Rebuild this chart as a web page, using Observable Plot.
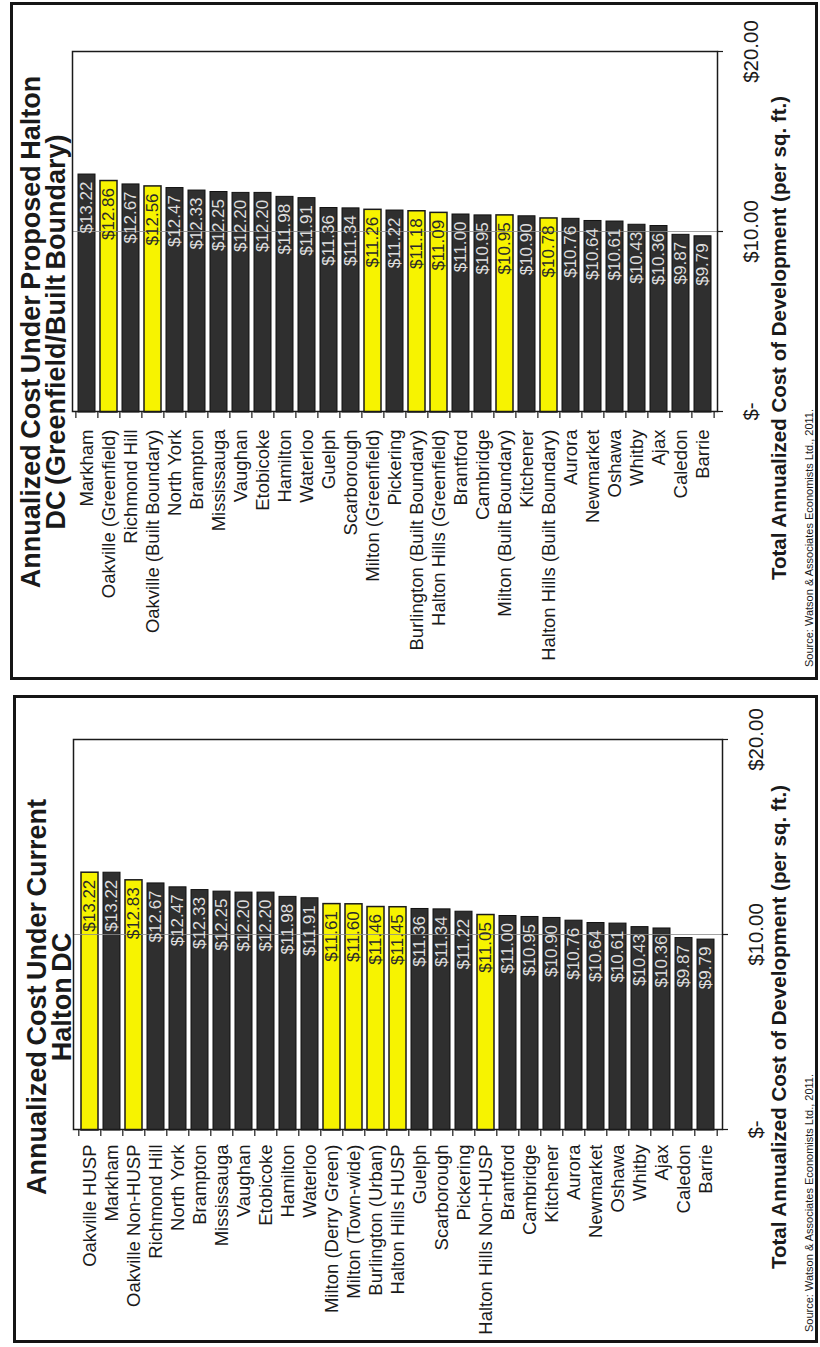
<!DOCTYPE html>
<html><head><meta charset="utf-8">
<script src="https://cdn.jsdelivr.net/npm/d3@7"></script>
<script src="https://cdn.jsdelivr.net/npm/@observablehq/plot@0.6"></script>
<style>
html,body{margin:0;padding:0;background:#fff;width:820px;height:1347px;overflow:hidden;}
#page{position:absolute;left:0;top:0;width:1347px;height:820px;transform-origin:0 0;transform:translate(0,1347px) rotate(-90deg);font-family:"Liberation Sans",Arial,sans-serif;color:#1a1a1a;background:#fff;}
.panel{position:absolute;border:3px solid #151515;box-sizing:border-box;}
.abs{position:absolute;white-space:nowrap;}
.title{font-weight:bold;font-size:27px;line-height:25px;text-align:center;word-spacing:-2px;}
.atitle{font-weight:bold;font-size:20.5px;line-height:24px;text-align:center;}
.source{font-size:11px;line-height:13px;}
.plotwrap{position:absolute;}
</style></head><body><div id="page"></div>
<script>
// ---- data ----
const currentNames = ["Oakville HUSP","Markham","Oakville Non-HUSP","Richmond Hill","North York","Brampton","Mississauga","Vaughan","Etobicoke","Hamilton","Waterloo","Milton (Derry Green)","Milton (Town-wide)","Burlington (Urban)","Halton Hills HUSP","Guelph","Scarborough","Pickering","Halton Hills Non-HUSP","Brantford","Cambridge","Kitchener","Aurora","Newmarket","Oshawa","Whitby","Ajax","Caledon","Barrie"];
const currentValues = [13.22,13.22,12.83,12.67,12.47,12.33,12.25,12.20,12.20,11.98,11.91,11.61,11.60,11.46,11.45,11.36,11.34,11.22,11.05,11.00,10.95,10.90,10.76,10.64,10.61,10.43,10.36,9.87,9.79];
const currentHighlight = ["Oakville HUSP","Oakville Non-HUSP","Milton (Derry Green)","Milton (Town-wide)","Burlington (Urban)","Halton Hills HUSP","Halton Hills Non-HUSP"];

const proposedNames = ["Markham","Oakville (Greenfield)","Richmond Hill","Oakville (Built Boundary)","North York","Brampton","Mississauga","Vaughan","Etobicoke","Hamilton","Waterloo","Guelph","Scarborough","Milton (Greenfield)","Pickering","Burlington (Built Boundary)","Halton Hills (Greenfield)","Brantford","Cambridge","Milton (Built Boundary)","Kitchener","Halton Hills (Built Boundary)","Aurora","Newmarket","Oshawa","Whitby","Ajax","Caledon","Barrie"];
const proposedValues = [13.22,12.86,12.67,12.56,12.47,12.33,12.25,12.20,12.20,11.98,11.91,11.36,11.34,11.26,11.22,11.18,11.09,11.00,10.95,10.95,10.90,10.78,10.76,10.64,10.61,10.43,10.36,9.87,9.79];
const proposedHighlight = ["Oakville (Greenfield)","Oakville (Built Boundary)","Milton (Greenfield)","Burlington (Built Boundary)","Halton Hills (Greenfield)","Milton (Built Boundary)","Halton Hills (Built Boundary)"];

const axisTicks = [0, 10, 20];
const currentTitle = ["Annualized Cost Under Current", "Halton DC"];
const proposedTitle = ["Annualized Cost Under Proposed Halton", "DC (Greenfield/Built Boundary)"];
const axisTitle = "Total Annualized Cost of Development (per sq. ft.)";
const sourceText = "Source: Watson & Associates Economists Ltd., 2011.";

// ---- drawing ----
const page = document.getElementById("page");
const FONT = "'Liberation Sans', Arial, sans-serif";
const YELLOW = "#f7f300", DARK = "#2f2f2f";

function addDiv(cls, css, html) {
  const d = document.createElement("div");
  d.className = cls;
  Object.assign(d.style, css);
  if (html != null) d.innerHTML = html;
  page.appendChild(d);
  return d;
}

function makeChart(o) {
  const data = o.names.map((name, i) => ({name, value: o.values[i], hi: o.highlight.includes(name)}));
  const plotW = o.width - o.mLeft - o.mRight;
  const plotH = o.height - o.mTop - o.mBottom;
  const step = plotH / o.names.length;
  const pxPerUnit = plotW / 20;
  const fmt = v => "$" + v.toFixed(2);
  const chart = Plot.plot({
    width: o.width, height: o.height,
    marginLeft: o.mLeft, marginRight: o.mRight, marginTop: o.mTop, marginBottom: o.mBottom,
    style: {background: "transparent", fontFamily: FONT, color: "#1a1a1a", overflow: "visible"},
    x: {domain: [0, 20]},
    y: {domain: o.names, paddingInner: 0.25, paddingOuter: 0.125},
    marks: [
      Plot.barX(data.filter(d => !d.hi), {x: "value", y: "name", fill: DARK, stroke: "#111", strokeWidth: 1}),
      Plot.barX(data.filter(d => d.hi), {x: "value", y: "name", fill: YELLOW, stroke: "#1a1a1a", strokeWidth: 1.5}),
      Plot.ruleX([10], {stroke: "#8c8c8c", strokeWidth: 1, strokeOpacity: 0.8}),
      Plot.text(data.filter(d => !d.hi), {x: "value", y: "name", text: d => fmt(d.value), textAnchor: "end", dx: -8, fontSize: o.valueSize, fill: "#dedede"}),
      Plot.text(data.filter(d => d.hi), {x: "value", y: "name", text: d => fmt(d.value), textAnchor: "end", dx: -8, fontSize: o.valueSize, fill: "#2a2a2a"}),
      Plot.ruleY(o.names, {y: d => d, x1: 0, x2: -6 / pxPerUnit, dy: -step / 2, stroke: "#1a1a1a", strokeWidth: 1.2}),
      Plot.ruleY([o.names[o.names.length - 1]], {y: d => d, x1: 0, x2: -6 / pxPerUnit, dy: step / 2, stroke: "#1a1a1a", strokeWidth: 1.2}),
      Plot.axisX(axisTicks, {tickFormat: v => v === 0 ? "$-" : "$" + v.toFixed(2), tickSize: 6, tickPadding: 20, fontSize: o.tickFont, label: null, anchor: "bottom", strokeWidth: 1.2}),
      Plot.axisY({tickSize: 0, tickPadding: o.labelPad, fontSize: o.labelSize, label: null}),
      Plot.frame({stroke: "#1a1a1a", strokeWidth: 1.5})
    ]
  });
  const wrap = document.createElement("div");
  wrap.className = "plotwrap";
  Object.assign(wrap.style, {left: o.left + "px", top: o.top + "px", width: o.width + "px", height: o.height + "px"});
  wrap.appendChild(chart);
  page.appendChild(wrap);
}

// Current panel (left half of the landscape page)
addDiv("panel", {left: "4px", top: "13px", width: "648px", height: "805px"});
makeChart({names: currentNames, values: currentValues, highlight: currentHighlight,
  left: 4, top: 13, width: 648, height: 805, mLeft: 213, mRight: 45, mTop: 60, mBottom: 96,
  labelSize: 18.5, labelPad: 15, valueSize: 17, tickFont: 20.5});
addDiv("abs title", {left: "50px", width: "600px", top: "25px"}, currentTitle.join("<br>"));
addDiv("abs atitle", {left: "20px", width: "600px", top: "767px"}, axisTitle);
addDiv("abs source", {left: "15px", top: "803px"}, sourceText.replace("&", "&amp;"));

// Proposed panel (right half of the landscape page)
addDiv("panel", {left: "667px", top: "10px", width: "678px", height: "808px"});
makeChart({names: proposedNames, values: proposedValues, highlight: proposedHighlight,
  left: 667, top: 10, width: 678, height: 808, mLeft: 268, mRight: 50, mTop: 62, mBottom: 101,
  labelSize: 18.5, labelPad: 18, valueSize: 17, tickFont: 20.5});
addDiv("abs title", {left: "665px", width: "700px", top: "19px"}, proposedTitle.join("<br>"));
addDiv("abs atitle", {left: "709px", width: "600px", top: "767px"}, axisTitle);
addDiv("abs source", {left: "680px", top: "803px"}, sourceText.replace("&", "&amp;"));
</script>
</body></html>
